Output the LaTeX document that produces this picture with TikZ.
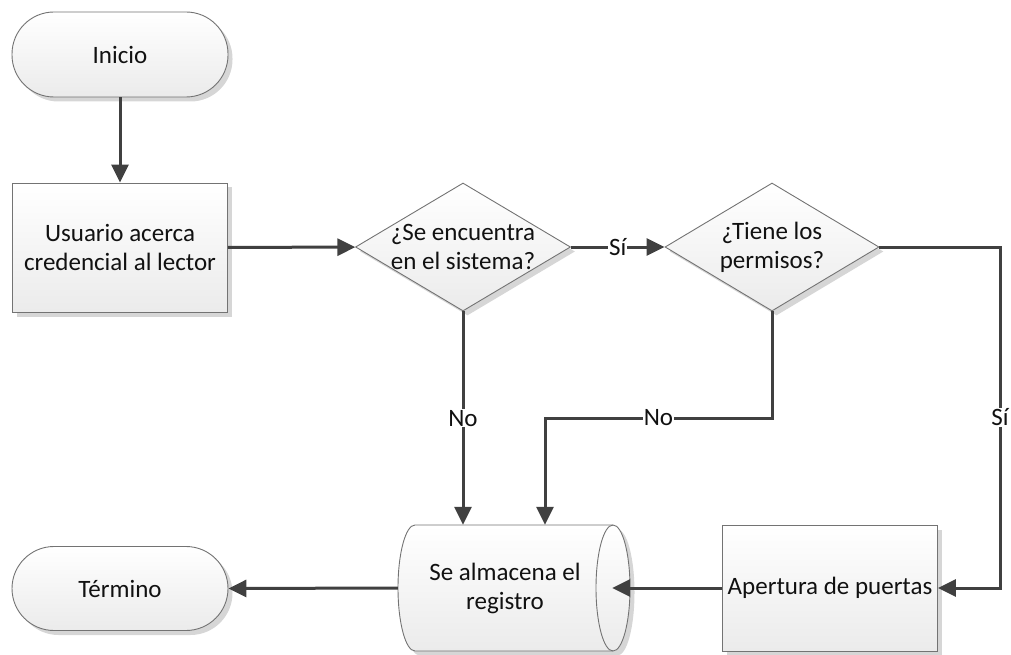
\documentclass[tikz,border=0pt]{standalone}
\usepackage{fontspec}
\setmainfont{Carlito}
\usetikzlibrary{shapes.geometric,arrows.meta,shadows}
\definecolor{cline}{HTML}{404040}
\definecolor{cborder}{HTML}{737373}
\definecolor{cshadow}{HTML}{D6D6D6}
\definecolor{ctext}{HTML}{111111}
\definecolor{cbot}{HTML}{EBEBEB}
\tikzset{
  base/.style={draw=cborder, line width=0.9pt, top color=white, bottom color=cbot,
    text=ctext, font=\fontsize{25}{29}\selectfont, align=center, inner sep=0pt,
    drop shadow={shadow xshift=4.5pt, shadow yshift=-4.5pt, fill=cshadow, opacity=1}},
  term/.style={base, rounded corners=42pt, minimum width=216pt, minimum height=85pt},
  proc/.style={base, minimum width=215pt, minimum height=128pt},
  decision/.style={base, diamond, aspect=1.68, minimum width=215pt, minimum height=128pt},
  lbl/.style={text=ctext, font=\fontsize{25}{29}\selectfont, align=center, inner sep=0pt},
  lab/.style={fill=white, text=ctext, font=\fontsize{25}{29}\selectfont, inner sep=1pt},
  conn/.style={draw=cline, line width=3pt, -{Triangle[length=18pt,width=17pt]}},
}
\begin{document}
\begin{tikzpicture}[x=1pt,y=-1pt]
\useasboundingbox (0,0) rectangle (1011,655);

\node[term] (ini) at (120,54.5) {Inicio};
\node[proc, minimum height=129pt] (usr) at (120,247.5) {Usuario acerca\\credencial al lector};
\node[decision, label={[lbl]center:{¿Se encuentra\\en el sistema?}}] (d1) at (463,247) {};
\node[decision, minimum width=214pt, aspect=1.67, label={[lbl]center:{¿Tiene los\\permisos?}}] (d2) at (772,247) {};
\node[proc, minimum height=126pt] (ap) at (830,588) {Apertura de puertas};
\node[term, minimum height=84pt] (ter) at (120,588.5) {Término};

% cylinder (stored data)
\fill[cshadow] (419.5,529.5) arc[start angle=90,end angle=270,x radius=17pt,y radius=63pt]
  -- (617.5,655.5) arc[start angle=270,end angle=450,x radius=17pt,y radius=63pt] -- cycle;
\path[draw=cborder, line width=0.9pt, top color=white, bottom color=cbot]
  (415,525) arc[start angle=90,end angle=270,x radius=17pt,y radius=63pt]
  -- (613,651) arc[start angle=270,end angle=450,x radius=17pt,y radius=63pt] -- cycle;
\draw[cborder, line width=0.9pt] (613,525) arc[start angle=90,end angle=270,x radius=17pt,y radius=63pt];
\node[lbl, minimum width=214pt, minimum height=126pt] (reg) at (505,588) {Se almacena el\\registro};

\coordinate (k) at (545,418);
\coordinate (r) at (1000,418);

\draw[conn] (ini) -- (usr);
\draw[conn] (usr) -- (d1);
\draw[conn] (d1) -- node[lab]{Sí} (d2);
\draw[conn] (d1) -- node[lab]{No} (d1 |- reg.north);
\draw[conn] (d2.south) -- (d2.south |- k) -- node[lab]{No} (k) -- (k |- reg.north);
\draw[conn] (d2.east) -- (d2.east -| r) -- node[lab]{Sí} (r |- ap.east) -- (ap.east);
\draw[conn] (ap) -- (reg.east);
\draw[conn] (reg.west) -- (ter.east);
\end{tikzpicture}
\end{document}
